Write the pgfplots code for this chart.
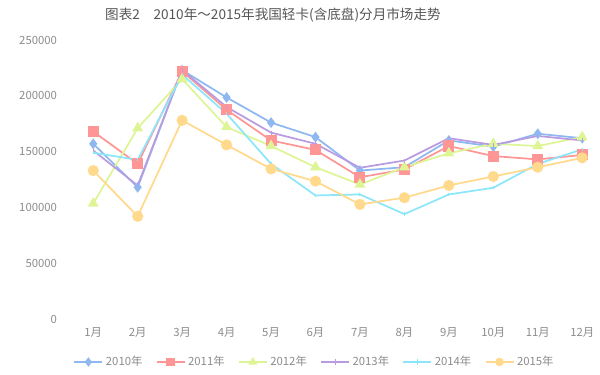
\documentclass[border=0pt]{standalone}
\usepackage{pgfplots}
\pgfplotsset{compat=1.18}
\usepackage{fontspec}
\setmainfont{Noto Sans CJK SC}
\definecolor{c10}{RGB}{143,184,240}
\definecolor{c11}{RGB}{255,150,150}
\definecolor{c12}{RGB}{222,245,150}
\definecolor{c13}{RGB}{185,155,225}
\definecolor{c14}{RGB}{140,230,250}
\definecolor{c15}{RGB}{255,217,140}
\definecolor{tgray}{RGB}{140,140,140}
\definecolor{titlegray}{RGB}{85,85,85}
\begin{document}
\begin{tikzpicture}
\useasboundingbox (0,0) rectangle (450pt,281.25pt);
\node[font=\fontsize{10.2pt}{12pt}\selectfont, text=titlegray] at (204.75pt,270pt) {图表2\quad 2010年～2015年我国轻卡(含底盘)分月市场走势};
\begin{axis}[
  at={(53.25pt,42pt)}, anchor=south west,
  scale only axis, width=396.75pt, height=209.25pt,
  xmin=0.5, xmax=12.4, ymin=0, ymax=250000,
  axis line style={draw=none},
  major tick style={draw=none},
  xtick={1,...,12},
  xticklabels={1月,2月,3月,4月,5月,6月,7月,8月,9月,10月,11月,12月},
  ytick={0,50000,100000,150000,200000,250000},
  scaled y ticks=false,
  /pgf/number format/assume math mode=true,
  yticklabel={\pgfmathprintnumber[fixed,1000 sep={}]{\tick}},
  ticklabel style={font=\fontsize{8.5pt}{10pt}\selectfont, text=tgray},
  yticklabel style={xshift=-7pt},
  xticklabel style={yshift=-3pt},
  legend columns=6,
  legend style={draw=none, fill=none, at={(0.461,-0.154)}, anchor=center, cells={anchor=west}, font=\fontsize{8.5pt}{10pt}\selectfont, text=tgray, /tikz/every even column/.append style={column sep=8pt}},
  legend image code/.code={\draw[#1] (0pt,0pt) -- (21pt,0pt); \draw[#1, mark repeat=2, mark phase=2, mark size=2.5pt] plot coordinates {(0pt,0pt) (10.5pt,0pt) (21pt,0pt)};},
  every axis plot/.append style={line width=1.3pt},
  clip=false,
]
\addplot[c10, mark=diamond*, mark size=3pt] coordinates {
(1,157000)(2,118000)(3,223000)(4,198500)(5,176000)(6,163000)(7,133000)(8,136000)(9,160000)(10,154500)(11,166000)(12,162000)};
\addlegendentry{2010年}
\addplot[c11, mark=square*, mark size=3.5pt] coordinates {
(1,168000)(2,139000)(3,222000)(4,187500)(5,160000)(6,151500)(7,127000)(8,134000)(9,155000)(10,146000)(11,143000)(12,147000)};
\addlegendentry{2011年}
\addplot[c12, mark=triangle*, mark size=3.5pt] coordinates {
(1,103500)(2,171000)(3,215000)(4,172000)(5,155000)(6,136000)(7,120500)(8,136000)(9,148500)(10,157000)(11,155000)(12,163000)};
\addlegendentry{2012年}
\addplot[c13, mark=|, mark size=1.5pt, mark options={line width=0.8pt}] coordinates {
(1,151000)(2,119600)(3,223000)(4,190000)(5,167000)(6,157000)(7,135500)(8,142000)(9,162000)(10,156000)(11,164000)(12,160000)};
\addlegendentry{2013年}
\addplot[c14, mark=|, mark size=1.2pt, mark options={line width=0.8pt}] coordinates {
(1,149000)(2,142600)(3,219000)(4,184000)(5,139000)(6,110700)(7,111600)(8,94000)(9,111600)(10,117600)(11,139000)(12,152000)};
\addlegendentry{2014年}
\addplot[c15, mark=*, mark size=3.5pt] coordinates {
(1,133000)(2,92000)(3,178000)(4,156000)(5,134500)(6,123500)(7,102700)(8,108700)(9,119700)(10,127700)(11,136000)(12,144400)};
\addlegendentry{2015年}
\end{axis}
\end{tikzpicture}
\end{document}
